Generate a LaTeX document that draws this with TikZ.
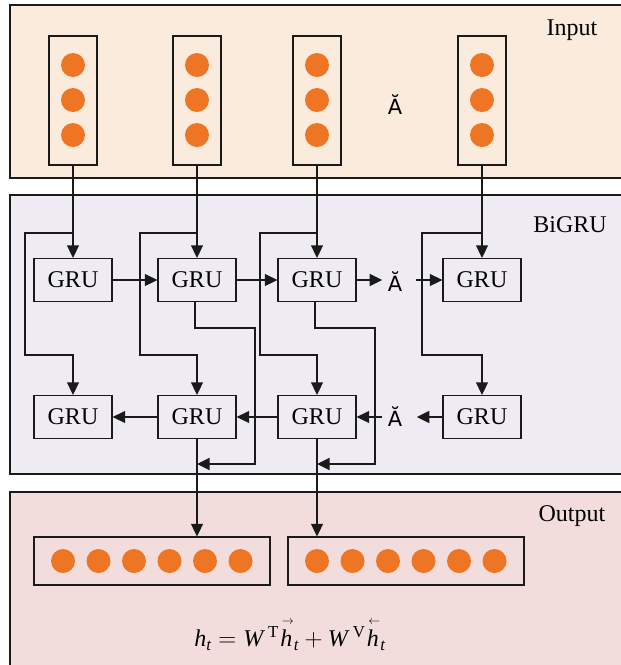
\documentclass[tikz,border=0pt]{standalone}
\usepackage{amsmath}
\usepackage{fontspec}
\setmainfont{Liberation Serif}
\newfontfamily\dejavu{DejaVu Sans}
\usetikzlibrary{arrows.meta}
\definecolor{inbg}{HTML}{FBEBDD}
\definecolor{bibg}{HTML}{EEEBF2}
\definecolor{outbg}{HTML}{F2DDDC}
\definecolor{dotorange}{HTML}{EE7524}
\definecolor{edge}{HTML}{1A1A1A}
\newcommand{\hr}{\overset{\raisebox{0pt}{\hspace{3pt}$\scriptscriptstyle\rightarrow$}}{\textit{h}}}
\newcommand{\hl}{\overset{\raisebox{0pt}{\hspace{3pt}$\scriptscriptstyle\leftarrow$}}{\textit{h}}}
\begin{document}
\begin{tikzpicture}[x=1pt,y=-1pt,
  line width=1.3pt,
  panel/.style={draw=edge, line width=1.3pt},
  vecbox/.style={draw=edge, line width=1.3pt, inner sep=0pt},
  dot/.style={circle, fill=dotorange, minimum size=24pt, inner sep=0pt},
  gru/.style={draw=edge, line width=1.3pt, minimum width=78pt, minimum height=43pt, inner sep=0pt, font=\fontsize{24}{26}\selectfont},
  arr/.style={draw=edge, -{Triangle[length=12.5pt,width=12pt]}, line width=1.3pt},
  lbl/.style={font=\fontsize{24}{26}\selectfont, inner sep=0pt},
  ell/.style={font=\dejavu\fontsize{21}{22}\selectfont, inner xsep=5pt, inner ysep=0pt}
]
\clip (0,0) rectangle (621,665);
\fill[white] (0,0) rectangle (621,665);
% panels
\draw[panel, fill=inbg] (10,5) rectangle (650,178);
\draw[panel, fill=bibg] (10,195) rectangle (650,474);
\draw[panel, fill=outbg] (10,492) rectangle (650,690);
\node[lbl] (inlbl) at (572,30) {Input};
\node[lbl] (bilbl) at (570,225) {BiGRU};
\node[lbl] (outlbl) at (572,516) {Output};
% input vectors
\foreach \i/\x in {1/73,2/197,3/317,4/482}{
  \node[vecbox, minimum width=48pt, minimum height=129pt] (v\i) at (\x,100.5) {};
  \foreach \y in {65,100,135}{ \node[dot] at (\x,\y) {}; }
}
\node[ell] (dI) at (395,105) {Ă};
% GRU nodes
\foreach \i/\x in {1/73,2/197,3/317,4/482}{
  \node[gru] (gt\i) at (\x,280) {GRU};
  \node[gru] (gb\i) at (\x,417) {GRU};
}
\node[ell] (dT) at (395,282) {Ă};
\node[ell] (dB) at (395,417) {Ă};
% output vectors
\node[vecbox, minimum width=236pt, minimum height=48pt] (ov1) at (152,561) {};
\node[vecbox, minimum width=236pt, minimum height=48pt] (ov2) at (406,561) {};
\foreach \k in {0,...,5}{
  \node[dot] at (63+35.5*\k,561) {};
  \node[dot] at (317+35.5*\k,561) {};
}
% input arrows
\foreach \i in {1,...,4}{ \draw[arr] (v\i.south) -- (gt\i.north); }
% branches to backward layer
\draw[arr] (v1.south |- 0,233) -| (25,355) -| (gb1.north);
\draw[arr] (v2.south |- 0,233) -| (140,355) -| (gb2.north);
\draw[arr] (v3.south |- 0,233) -| (260,355) -| (gb3.north);
\draw[arr] (v4.south |- 0,233) -| (422,355) -| (gb4.north);
% forward layer
\draw[arr] (gt1) -- (gt2);
\draw[arr] (gt2) -- (gt3);
\draw[arr] (gt3.east) -- (gt3.east -| dT.west);
\draw[arr] ([xshift=8pt]dT.east |- gt4.west) -- (gt4.west);
% backward layer
\draw[arr] (gb4.west) -- ([xshift=9pt]dB.east |- gb4.west);
\draw[arr] (dB.west |- gb3.east) -- (gb3.east);
\draw[arr] (gb3) -- (gb2);
\draw[arr] (gb2) -- (gb1);
% forward outputs joining
\draw[arr] ([xshift=-2pt]gt2.south) |- (255,328) |- (gb2.south |- 0,464);
\draw[arr] ([xshift=-2pt]gt3.south) |- (375,328) |- (gb3.south |- 0,464);
% outputs
\draw[arr] (gb2.south) -- (gb2.south |- ov1.north);
\draw[arr] (gb3.south) -- (gb3.south |- ov2.north);
% formula
\node[lbl] (formula) at (290,634) {$\textit{h}_{\textit{t}} = \textit{W}^{\;\mathrm{T}}\hr_{\textit{t}} + \textit{W}^{\;\mathrm{V}}\hl_{\textit{t}}$};
\end{tikzpicture}
\end{document}
